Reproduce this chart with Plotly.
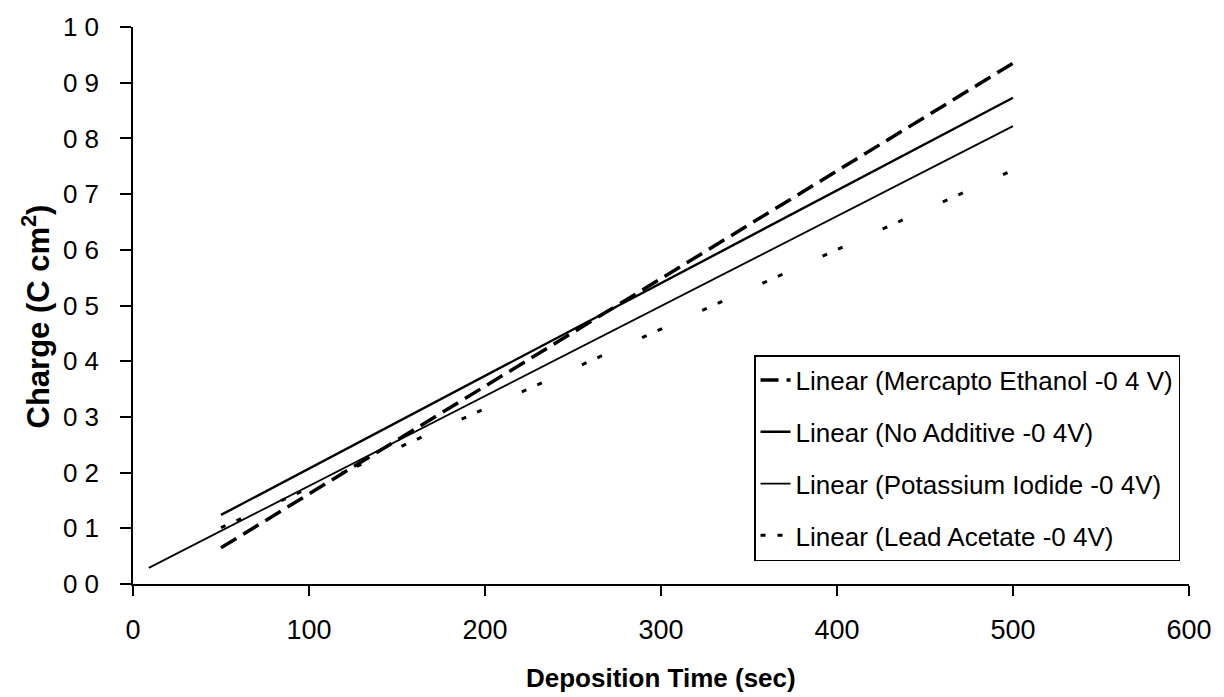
import plotly.graph_objects as go

# Linear trendlines of deposited charge vs. deposition time (endpoints of each fit)
mercapto_time = [50, 500]
mercapto_charge = [0.065, 0.935]

no_additive_time = [50, 500]
no_additive_charge = [0.124, 0.873]

potassium_time = [9, 500]
potassium_charge = [0.029, 0.822]

lead_time = [50, 500]
lead_charge = [0.101, 0.743]

y_tick_vals = [0.0, 0.1, 0.2, 0.3, 0.4, 0.5, 0.6, 0.7, 0.8, 0.9, 1.0]
y_tick_text = ["0 0", "0 1", "0 2", "0 3", "0 4", "0 5", "0 6", "0 7", "0 8", "0 9", "1 0"]
x_tick_vals = [0, 100, 200, 300, 400, 500, 600]

FONT = "Arial, Liberation Sans, sans-serif"

fig = go.Figure()

fig.add_trace(go.Scatter(
    x=mercapto_time, y=mercapto_charge, mode="lines",
    name="Linear (Mercapto Ethanol -0 4 V)", legendgroup="a",
    line=dict(color="black", width=3.5, dash="18px,8px"),
))
fig.add_trace(go.Scatter(
    x=no_additive_time, y=no_additive_charge, mode="lines",
    name="Linear (No Additive -0 4V)", legendgroup="b",
    line=dict(color="black", width=2.4),
))
fig.add_trace(go.Scatter(
    x=potassium_time, y=potassium_charge, mode="lines",
    name="Linear (Potassium Iodide -0 4V)", legendgroup="c",
    line=dict(color="black", width=1.8),
))
fig.add_trace(go.Scatter(
    x=lead_time, y=lead_charge, mode="lines",
    name="Linear (Lead Acetate -0 4V)", legendgroup="d",
    line=dict(color="black", width=3, dash="5px,12px,5px,44px"),
))

fig.update_layout(
    width=1224, height=697,
    margin=dict(l=133, r=29, t=27, b=113),
    paper_bgcolor="white", plot_bgcolor="white",
    font=dict(family=FONT, color="black"),
    showlegend=True,
    legend=dict(
        x=0.9915, xanchor="right", y=0.411, yanchor="top",
        bordercolor="black", borderwidth=1.5, bgcolor="white",
        font=dict(size=26, family=FONT),
        traceorder="grouped", tracegroupgap=15,
    ),
    xaxis=dict(
        range=[0, 600], tickvals=x_tick_vals,
        showline=True, linecolor="black", linewidth=1.5,
        ticks="outside", ticklen=10, tickcolor="black", tickwidth=1.5,
        showgrid=False, zeroline=False,
        tickfont=dict(size=27, family=FONT),
        ticklabelstandoff=11,
    ),
    yaxis=dict(
        range=[0, 1.0], tickvals=y_tick_vals, ticktext=y_tick_text,
        showline=True, linecolor="black", linewidth=1.5,
        ticks="outside", ticklen=11, tickcolor="black", tickwidth=1.5,
        showgrid=False, zeroline=False,
        tickfont=dict(size=26, family=FONT),
        ticklabelstandoff=16,
    ),
    annotations=[
        dict(text="<b>Deposition Time (sec)</b>", xref="paper", yref="paper",
             x=0.5, y=-0.169, xanchor="center", yanchor="middle", showarrow=False,
             font=dict(size=26, family=FONT)),
        dict(text="<b>Charge (C cm<sup>2</sup>)</b>", xref="paper", yref="paper",
             x=-0.092, y=0.48, xanchor="center", yanchor="middle", showarrow=False,
             textangle=-90, font=dict(size=31, family=FONT)),
    ],
)

fig.write_html("out.html")
